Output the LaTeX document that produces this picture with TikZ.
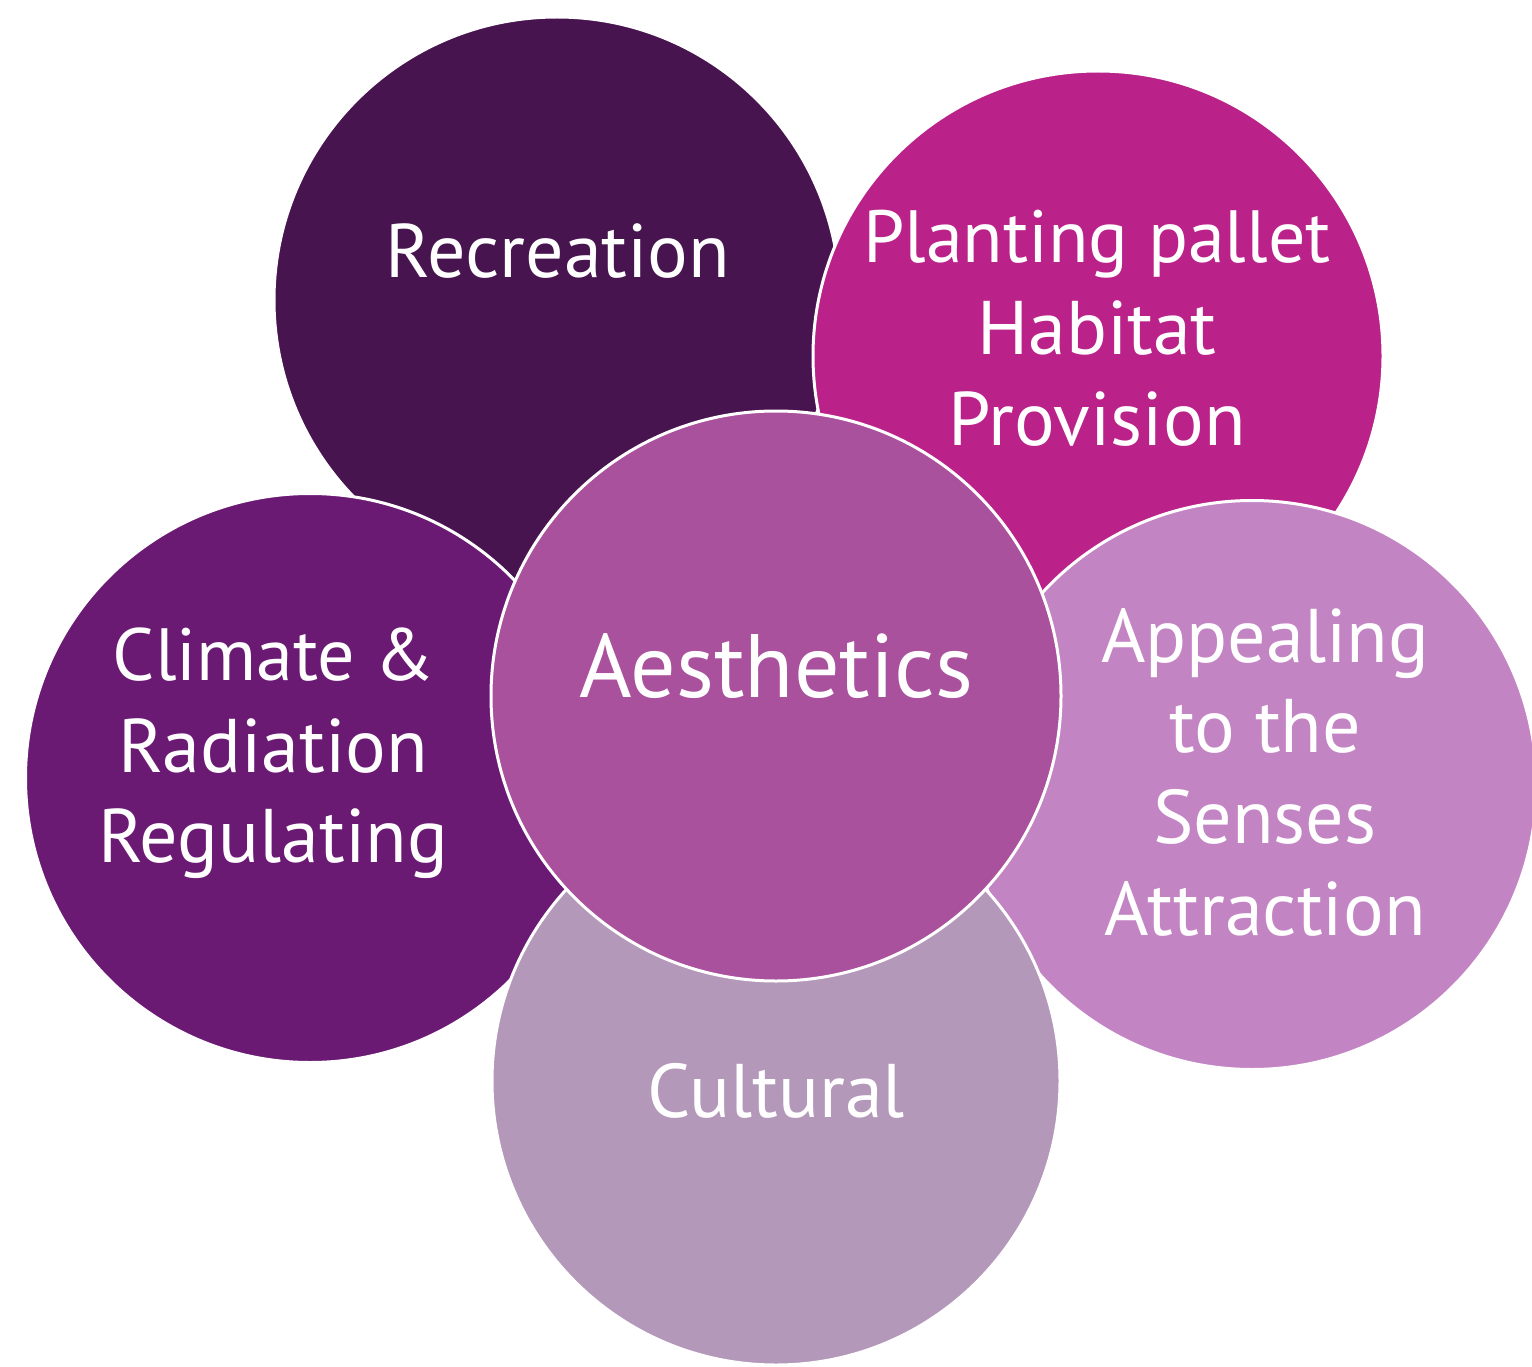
\documentclass[tikz,border=0pt]{standalone}
\usepackage{fontspec}
\setmainfont{PT Sans}
\definecolor{crec}{HTML}{481450}
\definecolor{cpla}{HTML}{BA228A}
\definecolor{ccli}{HTML}{6B1A74}
\definecolor{capp}{HTML}{C384C4}
\definecolor{ccul}{HTML}{B398B9}
\definecolor{caes}{HTML}{A9519D}
\tikzset{
  petal/.style={circle, draw=white, line width=3pt, inner sep=0pt, minimum size=#1},
  lbl/.style={text=white, anchor=base, inner sep=0pt, font=\fontsize{76}{90}\selectfont},
  narrowlbl/.style={text=white, anchor=base, inner sep=0pt, font=\fontsize{74}{90}\selectfont},
  biglbl/.style={text=white, anchor=base, inner sep=0pt, font=\fontsize{90}{100}\selectfont},
}
\begin{document}
\begin{tikzpicture}[x=1pt,y=-1pt]
\useasboundingbox (0,0) rectangle (1532,1367);
\node[petal=566pt, fill=crec] (rec) at (557,300) {};
\node[petal=570pt, fill=cpla] (pla) at (1098,356) {};
\node[petal=569pt, fill=ccli] (cli) at (310,778) {};
\node[petal=569pt, fill=capp] (app) at (1252,785) {};
\node[petal=568pt, fill=ccul] (cul) at (776,1081) {};
\node[petal=570pt, fill=caes] (aes) at (776,696) {};
% labels
\node[lbl] (t1) at (558,278) {Recreation};
\node[narrowlbl] (t2a) at (1097,262) {Planting pallet};
\node[lbl] (t2b) at (1097,354) {Habitat};
\node[lbl] (t2c) at (1097,445) {Provision};
\node[narrowlbl] (t3a) at (274,680) {Climate {\fontdimen2\font=0.18em}\&};
\node[lbl] (t3b) at (273,772) {Radiation};
\node[lbl] (t3c) at (273,862) {Regulating};
\node[lbl] (t4a) at (1265,662) {Appealing};
\node[lbl] (t4b) at (1265,752) {to the};
\node[lbl] (t4c) at (1265,843) {Senses};
\node[lbl] (t4d) at (1265,935) {Attraction};
\node[lbl] (t5) at (776,1117) {Cultural};
\node[biglbl] (t6) at (776,697) {Aesthetics};
\end{tikzpicture}
\end{document}
